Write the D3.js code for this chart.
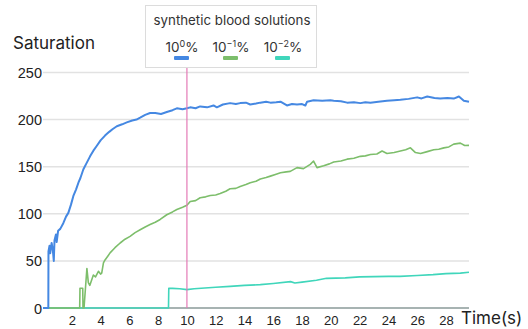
<!DOCTYPE html>
<html>
<head>
<meta charset="utf-8">
<script src="https://cdn.jsdelivr.net/npm/d3@7"></script>
<style>
  body { margin: 0; background: #fff; }
  svg { display: block; font-family: Inter, "Noto Sans", sans-serif; }
</style>
</head>
<body>
<div id="chart"></div>
<script>
// readings: [time (s), saturation]
const blueSeries = [
  [0, 0], [0.37, 0], [0.38, 60], [0.45, 66], [0.5, 58], [0.6, 69], [0.68, 62], [0.75, 50],
  [0.8, 72], [0.9, 78], [0.95, 70], [1.05, 82], [1.2, 84], [1.41, 90], [1.6, 97], [1.76, 101],
  [1.95, 110], [2.11, 119], [2.3, 126], [2.46, 133], [2.6, 138], [2.8, 147], [3.0, 153],
  [3.27, 161], [3.5, 167], [3.73, 172], [4.0, 178], [4.31, 183], [4.6, 187], [4.85, 190],
  [5.13, 193], [5.5, 195], [5.82, 197], [6.2, 199], [6.5, 200], [6.75, 202], [7.1, 205],
  [7.44, 207], [7.8, 207], [8.2, 206], [8.6, 208], [9.0, 210], [9.3, 212], [9.7, 211],
  [10, 212], [10.23, 213], [10.6, 212], [10.92, 214], [11.4, 213], [11.85, 215], [12.08, 213],
  [12.5, 216], [13.0, 217.5], [13.4, 216.5], [13.7, 217.5], [14.1, 218], [14.4, 216],
  [14.8, 217], [15.1, 218], [15.5, 219], [15.8, 218], [16.2, 218.5], [16.5, 219], [16.95, 215],
  [17.3, 216.5], [17.65, 216], [18.0, 216.5], [18.23, 215], [18.35, 219], [18.8, 220.5],
  [19.4, 220], [19.97, 220.5], [20.2, 220], [20.7, 219.5], [21.13, 218], [21.6, 218.5],
  [22.05, 217.5], [22.4, 218.5], [22.75, 218], [23.3, 219], [23.9, 220], [24.4, 220.5],
  [24.83, 221], [25.4, 222], [26.0, 223.6], [26.3, 222.5], [26.7, 224.5], [27.2, 223],
  [27.6, 222.3], [28.1, 223], [28.54, 222.3], [28.9, 224.5], [29.24, 220], [29.6, 219]
];
const greenSeries = [
  [0, 0], [2.55, 0], [2.57, 21], [2.76, 21], [2.78, 0], [2.85, 0], [3.05, 42], [3.15, 27],
  [3.25, 24], [3.5, 35], [3.65, 33], [3.85, 39], [4.0, 36], [4.08, 37], [4.2, 48], [4.31, 51],
  [4.5, 55], [4.66, 58.5], [5.0, 64], [5.36, 69], [5.7, 73], [6.05, 76], [6.4, 80], [6.75, 83],
  [7.1, 86], [7.44, 88.6], [7.8, 91], [8.14, 94], [8.6, 99], [9.0, 102], [9.3, 104.6],
  [9.7, 107], [10, 109], [10.23, 113], [10.6, 114], [10.92, 117], [11.3, 118], [11.62, 119.5],
  [12.0, 120], [12.31, 121.6], [12.7, 124], [13.0, 126.6], [13.4, 127], [13.7, 129],
  [14.1, 131], [14.4, 133], [14.8, 134.5], [15.1, 137], [15.5, 138.5], [15.8, 140], [16.2, 142],
  [16.5, 143.6], [16.9, 144.5], [17.18, 145], [17.65, 149], [18.1, 148], [18.57, 152.5],
  [18.8, 156], [19.04, 149], [19.5, 151], [19.9, 153], [20.2, 155], [20.7, 156], [21.13, 158],
  [21.6, 159], [22.05, 161], [22.4, 161.5], [22.75, 163], [23.2, 163.5], [23.56, 166.6],
  [23.9, 164], [24.4, 165], [24.83, 166.6], [25.2, 168], [25.53, 170], [25.88, 165], [26.23, 164],
  [26.7, 166], [27.15, 168], [27.5, 168.5], [27.85, 170], [28.2, 171], [28.54, 174], [29.0, 175],
  [29.3, 172.5], [29.6, 172.6]
];
const tealSeries = [
  [0, 0], [8.72, 0], [8.74, 21], [9.0, 20.8], [9.5, 20.5], [10, 19.5], [10.5, 20.5], [11, 21],
  [12, 22], [13, 23], [14, 24], [15.1, 24.8], [16, 26], [17.2, 28], [17.5, 26.6], [18, 27.5],
  [19, 29.5], [19.7, 31.5], [21, 32], [22, 33], [23, 33.3], [24, 33.6], [24.8, 33.6], [26, 34.5],
  [27.1, 35.4], [28, 36.5], [29, 37], [29.6, 37.9]
];

const seriesNames = ['0', '\u22121', '\u22122'];
const seriesColors = ['#4588e2', '#7dbe6b', '#40d6bb'];
const xTicks = [2, 4, 6, 8, 10, 12, 14, 16, 18, 20, 22, 24, 26, 28];
const yTicks = [0, 50, 100, 150, 200, 250];
const markerTime = 10;

const width = 528;
const height = 329;

const svg = d3.select('#chart').append('svg')
  .attr('width', width)
  .attr('height', height);

const x = d3.scaleLinear().domain([0, 29.6]).range([43, 469]);
const y = d3.scaleLinear().domain([0, 250]).range([308, 72.5]);

// grid
svg.append('g')
  .selectAll('line')
  .data(yTicks.filter((d) => d > 0))
  .enter().append('line')
  .attr('x1', x(0))
  .attr('x2', x(29.6))
  .attr('y1', (d) => y(d))
  .attr('y2', (d) => y(d))
  .style('stroke', '#e2e2e2')
  .style('stroke-width', 1.5);

// y axis labels
const yAxis = d3.axisLeft(y).tickValues(yTicks).tickSize(0).tickPadding(0);
svg.append('g')
  .attr('transform', 'translate(42,0)')
  .call(yAxis)
  .call((g) => g.select('.domain').remove())
  .selectAll('text')
  .style('font-size', '14.5px')
  .style('fill', '#222')
  .attr('dy', '0.35em');

// x axis
const xAxis = d3.axisBottom(x).tickValues(xTicks).tickSize(0).tickPadding(8);
svg.append('g')
  .attr('transform', `translate(0,${y(0)})`)
  .call(xAxis)
  .call((g) => g.select('.domain').remove())
  .selectAll('text')
  .style('font-size', '13px')
  .style('fill', '#222');

svg.append('line')
  .attr('x1', x(0) + 3)
  .attr('x2', x(29.6))
  .attr('y1', y(0))
  .attr('y2', y(0))
  .style('stroke', '#8a9a98')
  .style('stroke-width', 1.5);

// series
const line = d3.line().x((d) => x(d[0])).y((d) => y(d[1]));
[tealSeries, greenSeries, blueSeries].forEach((s, i) => {
  const idx = 2 - i;
  svg.append('path')
    .datum(s)
    .attr('d', line)
    .style('fill', 'none')
    .style('stroke', seriesColors[idx])
    .style('stroke-width', idx === 0 ? 2 : 1.6)
    .style('stroke-linejoin', 'round');
});

// marker at 10 s
svg.append('line')
  .attr('x1', x(markerTime))
  .attr('x2', x(markerTime))
  .attr('y1', 68)
  .attr('y2', y(0))
  .style('stroke', '#e47ab6')
  .style('stroke-width', 1.2);

// axis titles
svg.append('text')
  .attr('x', 13)
  .attr('y', 49)
  .style('font-size', '17px')
  .style('fill', '#222')
  .text('Saturation');

svg.append('text')
  .attr('x', 461)
  .attr('y', 324)
  .style('font-size', '17px')
  .style('fill', '#222')
  .text('Time(s)');

// legend
const legend = svg.append('g');
legend.append('rect')
  .attr('x', 145.5)
  .attr('y', 5.5)
  .attr('width', 171)
  .attr('height', 62)
  .style('fill', '#fff')
  .style('stroke', '#dcdcdc');

legend.append('text')
  .attr('x', 232)
  .attr('y', 25)
  .attr('text-anchor', 'middle')
  .style('font-size', '13.3px')
  .style('fill', '#333')
  .text('synthetic blood solutions');

const legendX = [182, 231, 283];
seriesNames.forEach((name, i) => {
  const t = legend.append('text')
    .attr('x', legendX[i])
    .attr('y', 52)
    .attr('text-anchor', 'middle')
    .style('font-size', '13.5px')
    .style('fill', '#333');
  t.append('tspan').text('10');
  t.append('tspan')
    .attr('dy', -5)
    .style('font-size', '9px')
    .text(name);
  t.append('tspan')
    .attr('dy', 5)
    .text('%');

  legend.append('rect')
    .attr('x', legendX[i] - 8)
    .attr('y', 56)
    .attr('width', 15)
    .attr('height', 4)
    .attr('rx', 1)
    .style('fill', seriesColors[i]);
});
</script>
</body>
</html>
